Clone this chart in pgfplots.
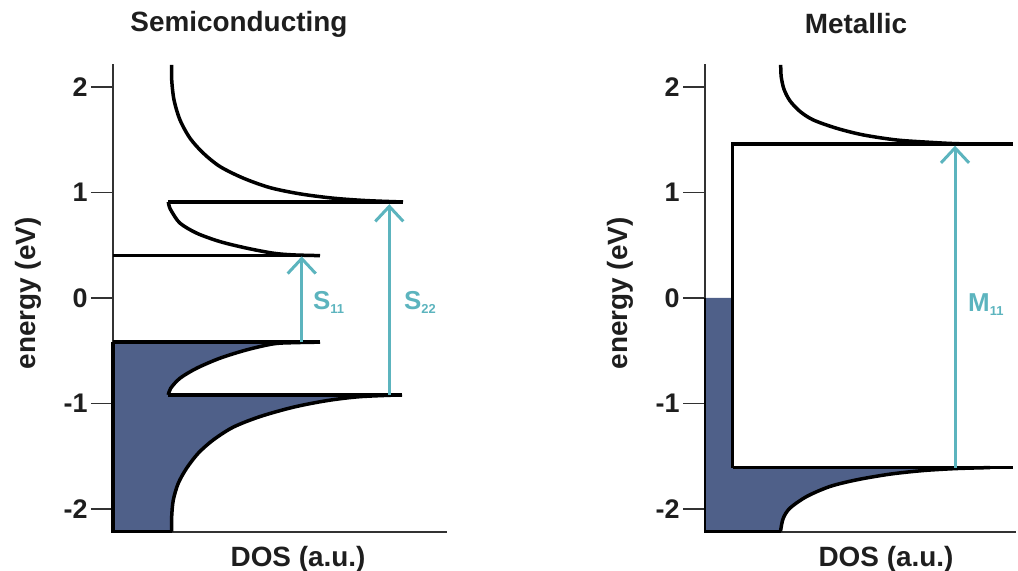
\documentclass[border=0pt]{standalone}
\usepackage{pgfplots}
\pgfplotsset{compat=1.18}
\usepackage{fontspec}
\setmainfont{Liberation Sans}
\usetikzlibrary{arrows.meta}
\definecolor{dosblue}{RGB}{79,96,137}
\definecolor{arrteal}{RGB}{92,180,190}
\definecolor{axgray}{RGB}{50,50,50}
\definecolor{txt}{RGB}{30,30,30}
\tikzset{lab/.style={font=\fontsize{26}{30}\selectfont\bfseries, text=arrteal, anchor=west, inner sep=0pt}}
\begin{document}
\begin{tikzpicture}
\useasboundingbox (0bp,0bp) rectangle (1018bp,571bp);
\pgfplotsset{
  dosaxis/.style={
    scale only axis, height=468bp,
    ymin=-2.22, ymax=2.22,
    axis lines=left,
    axis line style={-, line width=1.8bp, draw=axgray},
    xtick=\empty, ytick={-2,-1,0,1,2}, yticklabels={-2,-1,0,1,2},
    tick style={line width=1.8bp, draw=axgray},
    tick align=outside, major tick length=22bp,
    yticklabel style={font=\fontsize{27}{30}\selectfont\bfseries, text=txt},
    ylabel={energy (eV)}, xlabel={DOS (a.u.)},
    label style={font=\fontsize{28}{31}\selectfont\bfseries, text=txt},
    title style={font=\fontsize{28}{31}\selectfont\bfseries, text=txt, anchor=center},
    clip=false,
  },
  curve/.style={black, line width=3.5bp, smooth, tension=0.5, no markers},
  lin/.style={black, line width=3.5bp, no markers},
  arr/.style={arrteal, line width=3bp, no markers, -{Straight Barb[length=15bp,width=28bp,line width=3bp]}},
}
% ---------------- Semiconducting ----------------
\begin{axis}[dosaxis, at={(113bp,39bp)}, anchor=south west,
  width=334bp, xmin=0, xmax=3.34,
  title={Semiconducting},
  title style={at={(axis description cs:0.377,1.073)}},
  ylabel style={at={(axis description cs:-0.2545,0.51)}, anchor=center},
  xlabel style={at={(axis description cs:0.554,-0.058)}, anchor=center}]
% filled valence DOS
\addplot[fill=dosblue, draw=none] coordinates {
 (0,-0.419) (2.07,-0.419) (1.80,-0.424) (1.603,-0.435) (1.337,-0.492) (1.07,-0.571)
 (0.837,-0.666) (0.67,-0.761) (0.577,-0.856) (0.553,-0.919) (2.89,-0.919)
 (2.47,-0.936) (2.137,-0.974) (1.803,-1.036) (1.47,-1.125) (1.203,-1.225)
 (1.003,-1.346) (0.853,-1.472) (0.737,-1.614) (0.653,-1.757) (0.603,-1.916)
 (0.587,-2.072) (0.587,-2.216) (0,-2.216)} -- cycle;
% conduction band curves
\addplot[curve] coordinates {
 (0.587,2.211) (0.587,2.069) (0.61,1.879) (0.67,1.689) (0.77,1.516) (0.903,1.374)
 (1.07,1.247) (1.303,1.137) (1.57,1.047) (1.87,0.988) (2.203,0.947)
 (2.537,0.924) (2.90,0.911)};
\addplot[lin] coordinates {(0.553,0.911) (2.90,0.911)};
\addplot[curve] coordinates {
 (0.553,0.911) (0.563,0.867) (0.587,0.82) (0.67,0.71) (0.837,0.615) (1.07,0.535)
 (1.337,0.473) (1.603,0.425) (1.80,0.409) (2.07,0.402)};
\addplot[lin] coordinates {(0,0.402) (2.07,0.402)};
% valence band curves
\addplot[lin] coordinates {(0,-0.419) (2.07,-0.419)};
\addplot[curve] coordinates {
 (2.07,-0.419) (1.80,-0.424) (1.603,-0.435) (1.337,-0.492) (1.07,-0.571)
 (0.837,-0.666) (0.67,-0.761) (0.577,-0.856) (0.553,-0.919)};
\addplot[lin] coordinates {(0.553,-0.919) (2.89,-0.919)};
\addplot[curve] coordinates {
 (2.89,-0.919) (2.47,-0.936) (2.137,-0.974) (1.803,-1.036) (1.47,-1.125) (1.203,-1.225)
 (1.003,-1.346) (0.853,-1.472) (0.737,-1.614) (0.653,-1.757) (0.603,-1.916)
 (0.587,-2.072) (0.587,-2.216)};
\addplot[lin] coordinates {(0,-0.419) (0,-2.216) (0.587,-2.216)};
% transitions
\addplot[arr] coordinates {(1.887,-0.419) (1.887,0.395)};
\addplot[arr] coordinates {(2.763,-0.919) (2.763,0.89)};
\node[lab] at (axis cs:2.00,-0.04) {S\raisebox{-4bp}{\fontsize{13}{13}\selectfont 11}};
\node[lab] at (axis cs:2.91,-0.04) {S\raisebox{-4bp}{\fontsize{13}{13}\selectfont 22}};
\end{axis}
% ---------------- Metallic ----------------
\begin{axis}[dosaxis, at={(705bp,39bp)}, anchor=south west,
  width=311bp, xmin=0, xmax=3.11,
  title={Metallic},
  title style={at={(axis description cs:0.4855,1.073)}},
  ylabel style={at={(axis description cs:-0.2733,0.51)}, anchor=center},
  xlabel style={at={(axis description cs:0.582,-0.058)}, anchor=center}]
\addplot[fill=dosblue, draw=none] coordinates {
 (0,0) (0.277,0) (0.277,-1.609) (2.90,-1.609) (2.517,-1.618) (2.183,-1.637)
 (1.85,-1.671) (1.517,-1.725) (1.25,-1.788) (1.017,-1.883) (0.85,-1.993)
 (0.783,-2.088) (0.757,-2.20) (0.757,-2.216) (0,-2.216)} -- cycle;
\addplot[curve] coordinates {
 (0.757,2.211) (0.762,2.10) (0.79,1.98) (0.85,1.87) (0.95,1.77) (1.083,1.689) (1.317,1.61)
 (1.583,1.547) (1.917,1.499) (2.25,1.477) (2.517,1.464) (2.85,1.459)};
\addplot[lin] coordinates {(0.277,-1.609) (0.277,1.459) (3.077,1.459)};
\addplot[lin] coordinates {(0.277,-1.609) (3.077,-1.609)};
\addplot[curve] coordinates {
 (2.85,-1.609) (2.517,-1.618) (2.183,-1.637) (1.85,-1.671) (1.517,-1.725)
 (1.25,-1.788) (1.017,-1.883) (0.85,-1.993) (0.783,-2.088) (0.757,-2.20)
 (0.757,-2.216)};
\addplot[black, line width=2.4bp, no markers] coordinates {(0,0) (0,-2.216) (0.757,-2.216)};
\addplot[arr] coordinates {(2.50,-1.609) (2.50,1.445)};
\node[lab] at (axis cs:2.63,-0.06) {M\raisebox{-4bp}{\fontsize{13}{13}\selectfont 11}};
\end{axis}
\end{tikzpicture}
\end{document}
